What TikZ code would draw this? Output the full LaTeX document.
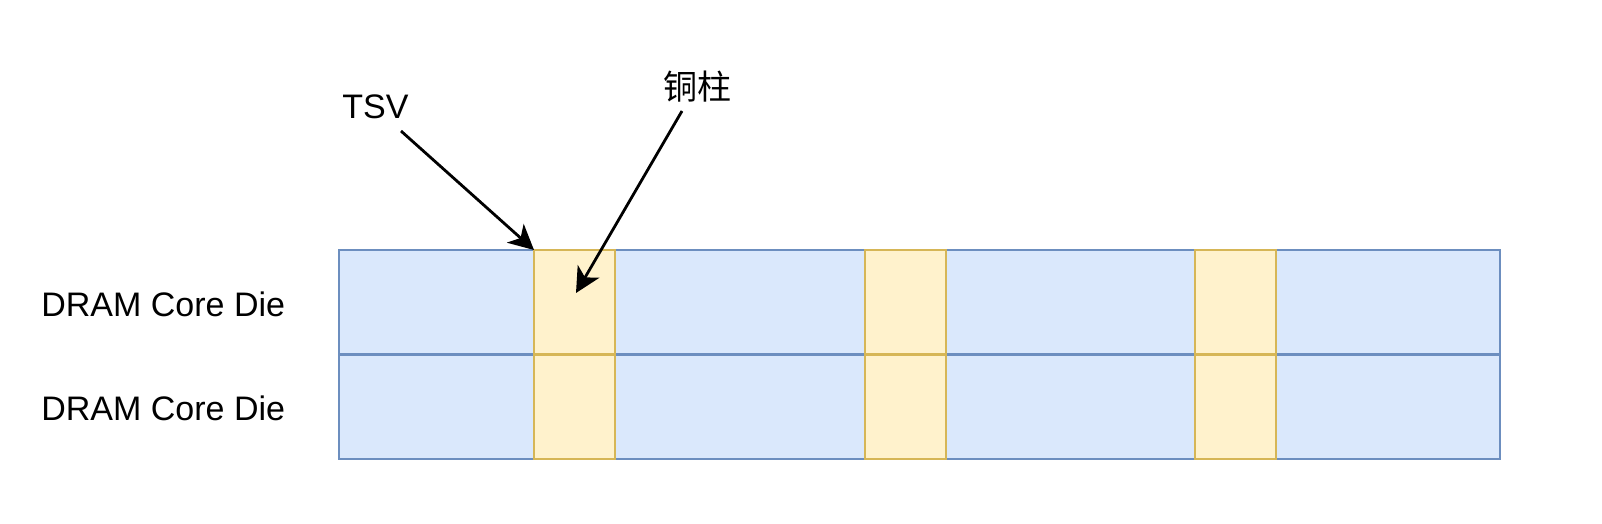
\documentclass[tikz,border=0pt]{standalone}
\usepackage{fontspec}
\setmainfont{Liberation Sans}
\newfontfamily\cjk{Noto Sans CJK SC}
\usetikzlibrary{arrows.meta}
\definecolor{dieFill}{HTML}{DAE8FC}
\definecolor{dieLine}{HTML}{6C8EBF}
\definecolor{tsvFill}{HTML}{FFF2CC}
\definecolor{tsvLine}{HTML}{D6B656}
\tikzset{
  die/.style={draw=dieLine, fill=dieFill, line width=1.25pt, inner sep=0pt, outer sep=0pt,
    minimum width=580.5pt, minimum height=52.25pt, anchor=north west},
  pillar/.style={draw=tsvLine, fill=tsvFill, line width=1.3pt, inner sep=0pt, outer sep=0pt,
    minimum width=40.5pt, minimum height=52.25pt, anchor=north west},
  lbl/.style={inner sep=0pt, anchor=base west, font=\fontsize{17}{20}\selectfont},
  pointer/.style={line width=1.4pt, -{Stealth[length=12.5pt, width=12.5pt, inset=3.5pt]}}
}
\begin{document}
\begin{tikzpicture}[x=0.5pt, y=-0.5pt]
\useasboundingbox (0,0) rectangle (1602,524);
% dies
\node[die] (die1) at (339,250) {};
\node[die] (die2) at (339,354.5) {};
% pillars
\foreach \n/\x in {a/534, b/865, c/1195}{
  \node[pillar] (p\n1) at (\x,250) {};
  \node[pillar] (p\n2) at (\x,354.5) {};
}
% labels
\node[lbl] (l1) at (41,316) {DRAM Core Die};
\node[lbl] (l2) at (41,420) {DRAM Core Die};
\node[lbl] (tsv) at (342,119) {TSV};
\node[lbl, font=\fontsize{17}{20}\selectfont\cjk] (cu) at (663,100) {铜柱};
% arrows
\coordinate (tsvs) at (401,131);
\coordinate (cus) at (682,111);
\coordinate (cut) at (576,293);
\draw[pointer] (tsvs) -- (pa1.north west);
\draw[pointer] (cus) -- (cut);
\end{tikzpicture}
\end{document}
